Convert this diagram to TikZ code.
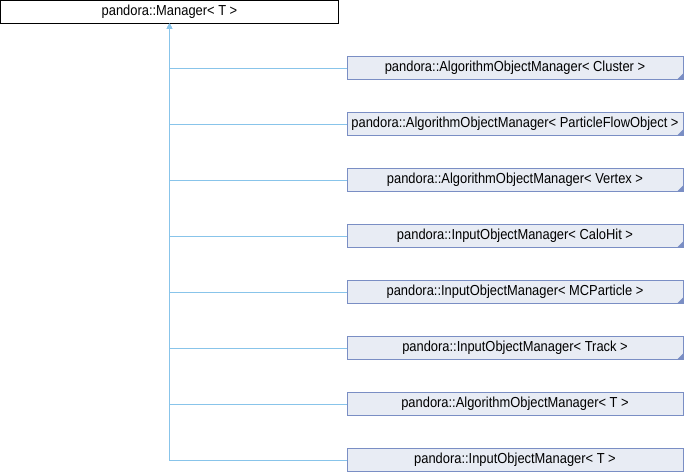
\documentclass[tikz,border=0pt]{standalone}
\usepackage{fontspec}
\newfontfamily\dxfont{Liberation Sans}[FakeStretch=0.89]
\usetikzlibrary{arrows.meta}
\definecolor{dxfill}{RGB}{232,236,244}
\definecolor{dxborder}{RGB}{122,142,196}
\definecolor{dxedge}{RGB}{136,196,234}
\definecolor{dxcorner}{RGB}{122,142,196}

\begin{document}
\begin{tikzpicture}[
      x = 1pt, y = -1pt,
      every node/.style = {
        rectangle, inner sep = 0pt, minimum height = 23pt, text = black,
        font = \dxfont\fontsize{14.5}{16}\selectfont},
      base/.style = {draw = black, fill = white, line width = 1pt,
        minimum width = 338pt},
      leaf/.style = {draw = dxborder, fill = dxfill, line width = 1pt,
        minimum width = 336pt},
      more/.style = {leaf, path picture = {
        \fill[dxcorner] (path picture bounding box.south east)
          -- ++(-6pt,0pt) -- ++(6pt,6pt) -- cycle;}},
      every path/.style = {dxedge, line width = 1pt}
      ]
    \useasboundingbox (0,0) rectangle (684,472);
    \node[base] (Mgr) at (169.5,11.5) {pandora::Manager< T >};
    \node[more] (AlgCl) at (515,68) {pandora::AlgorithmObjectManager< Cluster >}; % 0
    \node[more] (AlgPfo) at (515,124) {pandora::AlgorithmObjectManager< ParticleFlowObject >}; % 1
    \node[more] (AlgVtx) at (515,180) {pandora::AlgorithmObjectManager< Vertex >}; % 2
    \node[more] (InCalo) at (515,236) {pandora::InputObjectManager< CaloHit >}; % 3
    \node[more] (InMc) at (515,292) {pandora::InputObjectManager< MCParticle >}; % 4
    \node[more] (InTrk) at (515,348) {pandora::InputObjectManager< Track >}; % 5
    \node[leaf] (AlgT) at (515,404) {pandora::AlgorithmObjectManager< T >}; % 6
    \node[leaf] (InT) at (515,460) {pandora::InputObjectManager< T >}; % 7
    \draw[{Triangle[width=5pt,length=5pt]}-] (Mgr.south) |- (AlgCl.west);
    \draw[{Triangle[width=5pt,length=5pt]}-] (Mgr.south) |- (AlgPfo.west);
    \draw[{Triangle[width=5pt,length=5pt]}-] (Mgr.south) |- (AlgVtx.west);
    \draw[{Triangle[width=5pt,length=5pt]}-] (Mgr.south) |- (InCalo.west);
    \draw[{Triangle[width=5pt,length=5pt]}-] (Mgr.south) |- (InMc.west);
    \draw[{Triangle[width=5pt,length=5pt]}-] (Mgr.south) |- (InTrk.west);
    \draw[{Triangle[width=5pt,length=5pt]}-] (Mgr.south) |- (AlgT.west);
    \draw[{Triangle[width=5pt,length=5pt]}-] (Mgr.south) |- (InT.west);
  \end{tikzpicture}
\end{document}
